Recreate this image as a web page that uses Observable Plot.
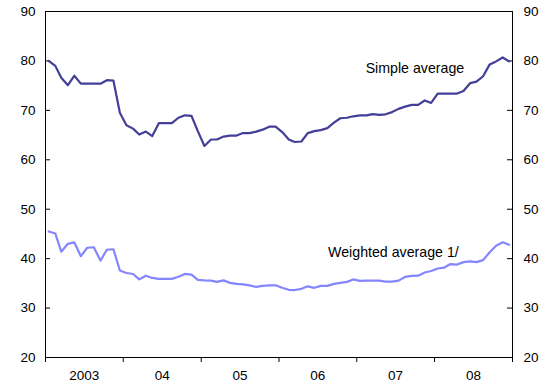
<!DOCTYPE html>
<html>
<head>
<meta charset="utf-8">
<script src="https://cdn.jsdelivr.net/npm/d3@7"></script>
<script src="https://cdn.jsdelivr.net/npm/@observablehq/plot@0.6"></script>
<style>
  html, body { margin: 0; padding: 0; background: #fff; }
  #chart svg { display: block; font-family: Arial, "Liberation Sans", sans-serif; }
</style>
</head>
<body>
<div id="chart"></div>
<script>
// Monthly values, Jan 2003 – Dec 2008
const simpleAverage = [
  80.0, 79.0, 76.6, 75.1, 77.0, 75.4, 75.4, 75.4, 75.4, 76.1, 76.0, 69.5,
  67.0, 66.3, 65.1, 65.7, 64.8, 67.4, 67.4, 67.4, 68.5, 69.0, 68.9, 65.8,
  62.8, 64.1, 64.1, 64.7, 64.9, 64.9, 65.4, 65.4, 65.7, 66.1, 66.7, 66.7,
  65.6, 64.1, 63.6, 63.7, 65.4, 65.8, 66.0, 66.4, 67.5, 68.4, 68.5, 68.8,
  69.0, 69.0, 69.25, 69.1, 69.2, 69.65, 70.3, 70.75, 71.1, 71.1, 72.0, 71.5,
  73.4, 73.4, 73.4, 73.4, 73.9, 75.5, 75.8, 76.9, 79.3, 79.9, 80.7, 79.9
];
const weightedAverage = [
  45.5, 45.1, 41.4, 43.0, 43.3, 40.5, 42.2, 42.3, 39.6, 41.8, 41.9, 37.6,
  37.1, 36.9, 35.8, 36.55, 36.1, 35.9, 35.9, 35.9, 36.35, 36.9, 36.75, 35.7,
  35.6, 35.55, 35.3, 35.6, 35.1, 34.9, 34.8, 34.6, 34.3, 34.5, 34.6, 34.6,
  34.1, 33.7, 33.65, 33.9, 34.4, 34.1, 34.5, 34.5, 34.9, 35.1, 35.3, 35.8,
  35.5, 35.55, 35.55, 35.55, 35.35, 35.35, 35.55, 36.3, 36.5, 36.55, 37.2, 37.5,
  38.0, 38.2, 38.9, 38.8, 39.3, 39.45, 39.3, 39.7, 41.3, 42.6, 43.3, 42.8
];
const startYear = 2003;
const years = [2003, 2004, 2005, 2006, 2007, 2008, 2009];
const xTickLabels = ["2003", "04", "05", "06", "07", "08"];
const yTicks = [20, 30, 40, 50, 60, 70, 80, 90];
const seriesLabels = [
  {text: "Simple average", date: new Date(Date.UTC(2007, 9, 1)), value: 78.5},
  {text: "Weighted average 1/", date: new Date(Date.UTC(2007, 5, 22)), value: 41.3}
];

// month midpoints
const monthDate = (i) => new Date(Date.UTC(startYear + Math.floor(i / 12), i % 12, 16));
const simpleData = simpleAverage.map((v, i) => ({date: monthDate(i), value: v}));
const weightedData = weightedAverage.map((v, i) => ({date: monthDate(i), value: v}));
const yearStarts = years.map(y => new Date(Date.UTC(y, 0, 1)));
const yearMids = years.slice(0, -1).map(y => new Date(Date.UTC(y, 6, 2)));

const W = 542, H = 383;
const mL = 45, mR = 30, mT = 11, mB = 26;
const plotW = W - mL - mR;

const chart = Plot.plot({
  width: W,
  height: H,
  marginLeft: mL,
  marginRight: mR,
  marginTop: mT,
  marginBottom: mB,
  style: {fontFamily: 'Arial, "Liberation Sans", sans-serif', fontSize: "13px", color: "#000", background: "#fff"},
  x: {type: "utc", domain: [yearStarts[0], yearStarts[yearStarts.length - 1]]},
  y: {domain: [20, 90]},
  marks: [
    Plot.frame({stroke: "#000", strokeWidth: 1}),
    // year boundary ticks (outside, below)
    Plot.axisX({ticks: yearStarts, tickFormat: () => "", tickSize: 5, stroke: "#000", label: null}),
    // year labels centered between ticks
    Plot.axisX({ticks: yearMids, tickFormat: (d, i) => xTickLabels[i], tickSize: 0, tickPadding: 13, fontSize: 13.5, fill: "#000", label: null}),
    Plot.axisY({anchor: "left", ticks: yTicks, tickSize: 0, tickPadding: 10, fontSize: 13.5, fill: "#000", label: null}),
    Plot.axisY({anchor: "right", ticks: yTicks, tickSize: 0, tickPadding: 11, fontSize: 13.5, fill: "#000", label: null}),
    // inward tick marks on both y axes
    Plot.tickY(yTicks, {y: d => d, stroke: "#000", insetRight: plotW - 5}),
    Plot.tickY(yTicks, {y: d => d, stroke: "#000", insetLeft: plotW - 5}),
    Plot.line(weightedData, {x: "date", y: "value", stroke: "#8585ff", strokeWidth: 2.2}),
    Plot.line(simpleData, {x: "date", y: "value", stroke: "#433f98", strokeWidth: 2.2}),
    Plot.text(seriesLabels, {x: "date", y: "value", text: "text", fill: "#000", fontSize: 14.2, textAnchor: "middle"})
  ]
});
document.getElementById("chart").appendChild(chart);
</script>
</body>
</html>
